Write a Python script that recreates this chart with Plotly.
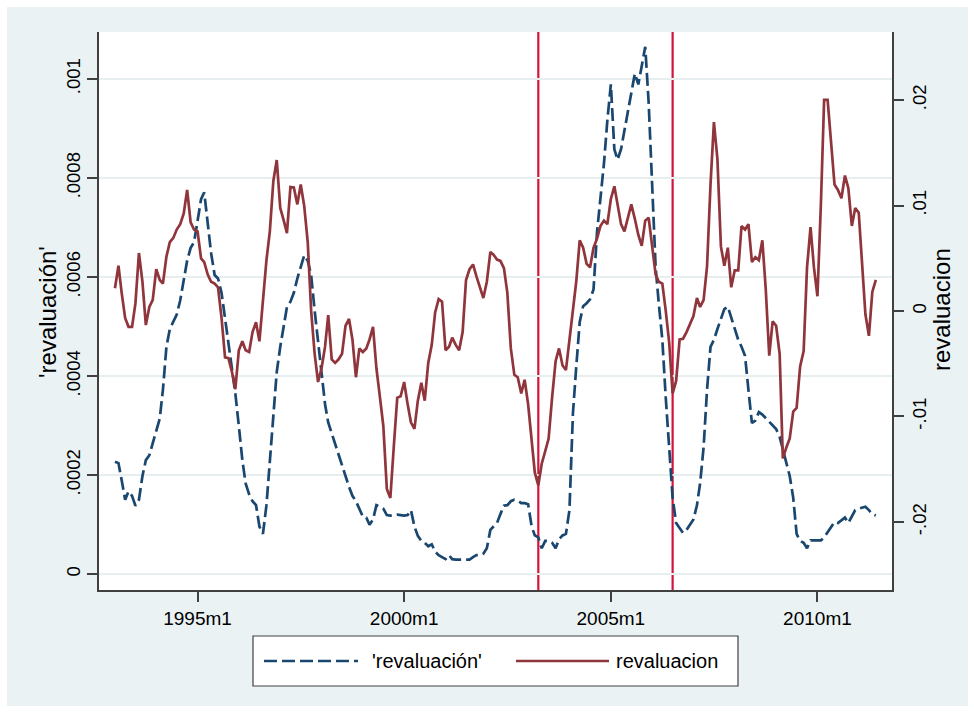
import pandas as pd
import plotly.graph_objects as go

# ---------------- data ----------------
start_month = "1993-01"
blue_name = "'revaluación'"
red_name = "revaluacion"

revaluacion_lag = [
    0.000227, 0.000224, 0.00019, 0.00015, 0.000167, 0.000158, 0.000138, 0.00015, 0.000198, 0.00023,
    0.00024, 0.000263, 0.000285, 0.000314, 0.000372, 0.000459, 0.000495, 0.00051, 0.000524, 0.000553,
    0.00059, 0.000633, 0.000659, 0.00067, 0.000713, 0.000757, 0.000771, 0.000706, 0.000648, 0.000604,
    0.000597, 0.000568, 0.000517, 0.000459, 0.000415, 0.000365, 0.000299, 0.00023, 0.000183, 0.000161,
    0.000147, 0.000139, 0.000096, 0.000081, 0.000139, 0.000227, 0.000328, 0.000408, 0.000459, 0.000503,
    0.000539, 0.00055, 0.000568, 0.000597, 0.000622, 0.000644, 0.000633, 0.000604, 0.000532, 0.000466,
    0.000408, 0.000343, 0.000306, 0.000285, 0.000263, 0.000241, 0.000219, 0.000198, 0.000176, 0.000158,
    0.000147, 0.000132, 0.000116, 0.000114, 0.0000995, 0.00011, 0.000139, 0.000136, 0.000132, 0.000119,
    0.000118, 0.000119, 0.00012, 0.000119, 0.000118, 0.000119, 0.000129, 0.000096, 0.000077, 0.000067,
    0.000063, 0.000056, 0.00006, 0.000045, 0.000038, 0.000034, 0.00003, 0.000038, 0.00003, 0.000029,
    0.000029, 0.000029, 0.000029, 0.000029, 0.000034, 0.000038, 0.000038, 0.000041, 0.000052, 0.000089,
    0.000096, 0.000103, 0.000121, 0.000138, 0.000139, 0.000147, 0.00015, 0.000148, 0.000143, 0.000143,
    0.000141, 0.000096, 0.000078, 0.000074, 0.000052, 0.000067, 0.000067, 0.000063, 0.000052, 0.00007,
    0.000078, 0.000081, 0.000129, 0.000325, 0.000418, 0.000509, 0.000541, 0.000547, 0.000555, 0.000575,
    0.000691, 0.000757, 0.000829, 0.000916, 0.000989, 0.000858, 0.000837, 0.000858, 0.000895, 0.000931,
    0.000975, 0.001011, 0.000989, 0.001025, 0.001065, 0.000953, 0.000771, 0.000619, 0.000546, 0.000473,
    0.000357, 0.000263, 0.000154, 0.000103, 0.000092, 0.000083, 0.000089, 0.0000995, 0.00011, 0.000139,
    0.000183, 0.000256, 0.000372, 0.000459, 0.000473, 0.000495, 0.000517, 0.000535, 0.00054, 0.000517,
    0.000495, 0.000473, 0.000459, 0.000441, 0.000372, 0.000305, 0.00031, 0.000327, 0.000322, 0.000315,
    0.000306, 0.000299, 0.000293, 0.000277, 0.000252, 0.000227, 0.000198, 0.000154, 0.000081, 0.000067,
    0.000063, 0.000052, 0.000068, 0.000068, 0.000068, 0.000068, 0.000074, 0.000085, 0.000096, 0.000105,
    0.000103, 0.000109, 0.000114, 0.000103, 0.000118, 0.000129, 0.000132, 0.000134, 0.000136, 0.000129,
    0.000121, 0.000118,
]

revaluacion = [
    0.00215, 0.0043, 0.00174, -0.00065, -0.0015, -0.0015, 0.00072, 0.0055, 0.00277, -0.00133,
    0.00038, 0.00106, 0.00396, 0.00294, 0.0026, 0.00516, 0.00652, 0.00693, 0.00772, 0.00823,
    0.00926, 0.01148, 0.0084, 0.00772, 0.00755, 0.00499, 0.00464, 0.00345, 0.00277, 0.0026,
    0.00225, -0.00065, -0.0044, -0.00447, -0.00577, -0.00741, -0.00372, -0.00287, -0.00372, -0.00389,
    -0.002, -0.00106, -0.00287, 0.00106, 0.00482, 0.00755, 0.01233, 0.01431, 0.00977, 0.00857,
    0.00738, 0.01175, 0.01171, 0.01011, 0.01199, 0.00994, 0.00652, 0.00003, -0.00406, -0.00673,
    -0.00543, -0.00338, -0.00038, -0.00458, -0.00492, -0.00458, -0.00406, -0.0014, -0.00075, -0.0027,
    -0.00628, -0.00355, -0.00389, -0.00355, -0.0027, -0.0015, -0.00543, -0.00816, -0.0109, -0.01687,
    -0.01773, -0.01294, -0.00823, -0.00809, -0.00673, -0.00885, -0.01055, -0.01117, -0.0085, -0.0068,
    -0.0085, -0.00492, -0.00321, -0.00014, 0.00113, 0.00089, -0.00372, -0.00338, -0.00253, -0.00321,
    -0.00372, -0.002, 0.00294, 0.00396, 0.00441, 0.00328, 0.00225, 0.00123, 0.00277, 0.0056,
    0.00533, 0.00488, 0.00475, 0.00406, 0.00174, -0.00355, -0.00605, -0.00628, -0.00782, -0.00652,
    -0.00885, -0.01192, -0.01533, -0.01653, -0.01448, -0.01329, -0.01209, -0.00816, -0.00475, -0.00355,
    -0.00516, -0.0056, -0.00253, -0.0001, 0.00277, 0.0067, 0.006, 0.00447, 0.00413, 0.006,
    0.00686, 0.00806, 0.00857, 0.00823, 0.01062, 0.01182, 0.01011, 0.00823, 0.00755, 0.00891,
    0.01011, 0.00874, 0.00721, 0.00618, 0.00857, 0.00885, 0.00618, 0.00345, 0.00277, 0.0026,
    0.00003, -0.00304, -0.00782, -0.00663, -0.0027, -0.00263, -0.002, -0.00133, -0.00048, 0.00123,
    0.00038, 0.00106, 0.0042, 0.0120, 0.0179, 0.0144, 0.0061, 0.0043, 0.006, 0.00225,
    0.00386, 0.00386, 0.00806, 0.00772, 0.00823, 0.00464, 0.00509, 0.00482, 0.0067, 0.00208,
    -0.00424, -0.00099, -0.0014, -0.00406, -0.01397, -0.01294, -0.01209, -0.00953, -0.00919, -0.00526,
    -0.00379, 0.00413, 0.00796, 0.00413, 0.0014, 0.01028, 0.02001, 0.02001, 0.01574, 0.01199,
    0.01148, 0.01069, 0.01284, 0.01165, 0.00806, 0.00977, 0.00932, 0.00413, -0.00031, -0.00236,
    0.00181, 0.00294,
]

event_months = ["2003-04-01", "2006-07-01"]

x_tickvals = ["1995-01-01", "2000-01-01", "2005-01-01", "2010-01-01"]
x_ticktext = ["1995m1", "2000m1", "2005m1", "2010m1"]
y1_tickvals = [0, 0.0002, 0.0004, 0.0006, 0.0008, 0.001]
y1_ticktext = ["0", ".0002", ".0004", ".0006", ".0008", ".001"]
y2_tickvals = [-0.02, -0.01, 0, 0.01, 0.02]
y2_ticktext = ["-.02", "-.01", "0", ".01", ".02"]

months = pd.period_range(start_month, periods=len(revaluacion), freq="M").to_timestamp()

# ---------------- style ----------------
BG = "#EAF2F3"
GRID = "#E6EEF0"
NAVY = "#1A476F"
MAROON = "#90353B"
CRIMSON = "#D2143A"
AXC = "#404040"
FONT = "Liberation Sans, Arial, sans-serif"

W, H = 974, 712
L, R, T, B = 99, 82, 32, 122
PW, PH = W - L - R, H - T - B


def px_x(px):
    return (px - L) / PW


def px_y(py):
    return (H - B - py) / PH


fig = go.Figure()
fig.add_trace(go.Scatter(x=months, y=revaluacion_lag, name=blue_name, mode="lines",
                         line=dict(color=NAVY, width=2.7, dash="13px,5px"), yaxis="y"))
fig.add_trace(go.Scatter(x=months, y=revaluacion, name=red_name, mode="lines",
                         line=dict(color=MAROON, width=2.7), yaxis="y2"))

shapes = []
for d in event_months:
    shapes.append(dict(type="line", xref="x", yref="paper", x0=d, x1=d, y0=0, y1=1,
                       line=dict(color=CRIMSON, width=2.2), layer="between"))

# white page border around the grey background
for x0, x1, y0, y1 in [(0, W, 0, 7), (0, W, 706, H), (0, 7, 0, H), (968, W, 0, H)]:
    shapes.append(dict(type="rect", xref="paper", yref="paper",
                       x0=px_x(x0), x1=px_x(x1), y0=px_y(y1), y1=px_y(y0),
                       fillcolor="white", line=dict(width=0), layer="above"))

# legend box
shapes.append(dict(type="rect", xref="paper", yref="paper",
                   x0=px_x(253), x1=px_x(738), y0=px_y(686), y1=px_y(636),
                   fillcolor="white", line=dict(color=AXC, width=1.2), layer="above"))
ly = px_y(661)
shapes.append(dict(type="line", xref="paper", yref="paper", x0=px_x(264), x1=px_x(358), y0=ly, y1=ly,
                   line=dict(color=NAVY, width=2.7, dash="13px,5px"), layer="above"))
shapes.append(dict(type="line", xref="paper", yref="paper", x0=px_x(516), x1=px_x(609), y0=ly, y1=ly,
                   line=dict(color=MAROON, width=2.7), layer="above"))

annotations = [
    dict(text=blue_name, xref="paper", yref="paper", x=px_x(370), y=ly, xanchor="left",
         yanchor="middle", showarrow=False, font=dict(family=FONT, size=20, color="black")),
    dict(text=red_name, xref="paper", yref="paper", x=px_x(614), y=ly, xanchor="left",
         yanchor="middle", showarrow=False, font=dict(family=FONT, size=20, color="black")),
    dict(text=blue_name, xref="paper", yref="paper", x=px_x(47), y=px_y(312), textangle=-90,
         xanchor="center", yanchor="middle", showarrow=False,
         font=dict(family=FONT, size=24, color="black")),
    dict(text=red_name, xref="paper", yref="paper", x=px_x(941), y=px_y(310), textangle=-90,
         xanchor="center", yanchor="middle", showarrow=False,
         font=dict(family=FONT, size=24, color="black")),
]

fig.update_layout(
    width=W, height=H, autosize=False,
    margin=dict(l=L, r=R, t=T, b=B, pad=0),
    paper_bgcolor=BG, plot_bgcolor="white",
    showlegend=False,
    font=dict(family=FONT, size=18, color="black"),
    xaxis=dict(range=["1992-08-13", "2011-10-22"], tickvals=x_tickvals, ticktext=x_ticktext,
               showgrid=False, zeroline=False, showline=True, linecolor=AXC, linewidth=1.5,
               ticks="outside", ticklen=10, tickwidth=1.5, tickcolor=AXC,
               tickfont=dict(family=FONT, size=19, color="black")),
    yaxis=dict(range=[-0.0000323, 0.0010949], tickvals=y1_tickvals, ticktext=y1_ticktext,
               showgrid=True, gridcolor=GRID, gridwidth=2, zeroline=False,
               showline=True, linecolor=AXC, linewidth=1.5,
               ticks="outside", ticklen=10, tickwidth=1.5, tickcolor=AXC, tickangle=-90,
               tickfont=dict(family=FONT, size=18.5, color="black")),
    yaxis2=dict(range=[-0.02645, 0.02645], tickvals=y2_tickvals, ticktext=y2_ticktext,
                overlaying="y", side="right", anchor="x",
                showgrid=False, zeroline=False, showline=True, linecolor=AXC, linewidth=1.5,
                ticks="outside", ticklen=10, tickwidth=1.5, tickcolor=AXC, tickangle=-90,
                tickfont=dict(family=FONT, size=18.5, color="black")),
    shapes=shapes,
    annotations=annotations,
)

fig.write_html("out.html", config={"displayModeBar": False},
               post_script="document.body.style.margin='0';document.body.style.padding='0';")
